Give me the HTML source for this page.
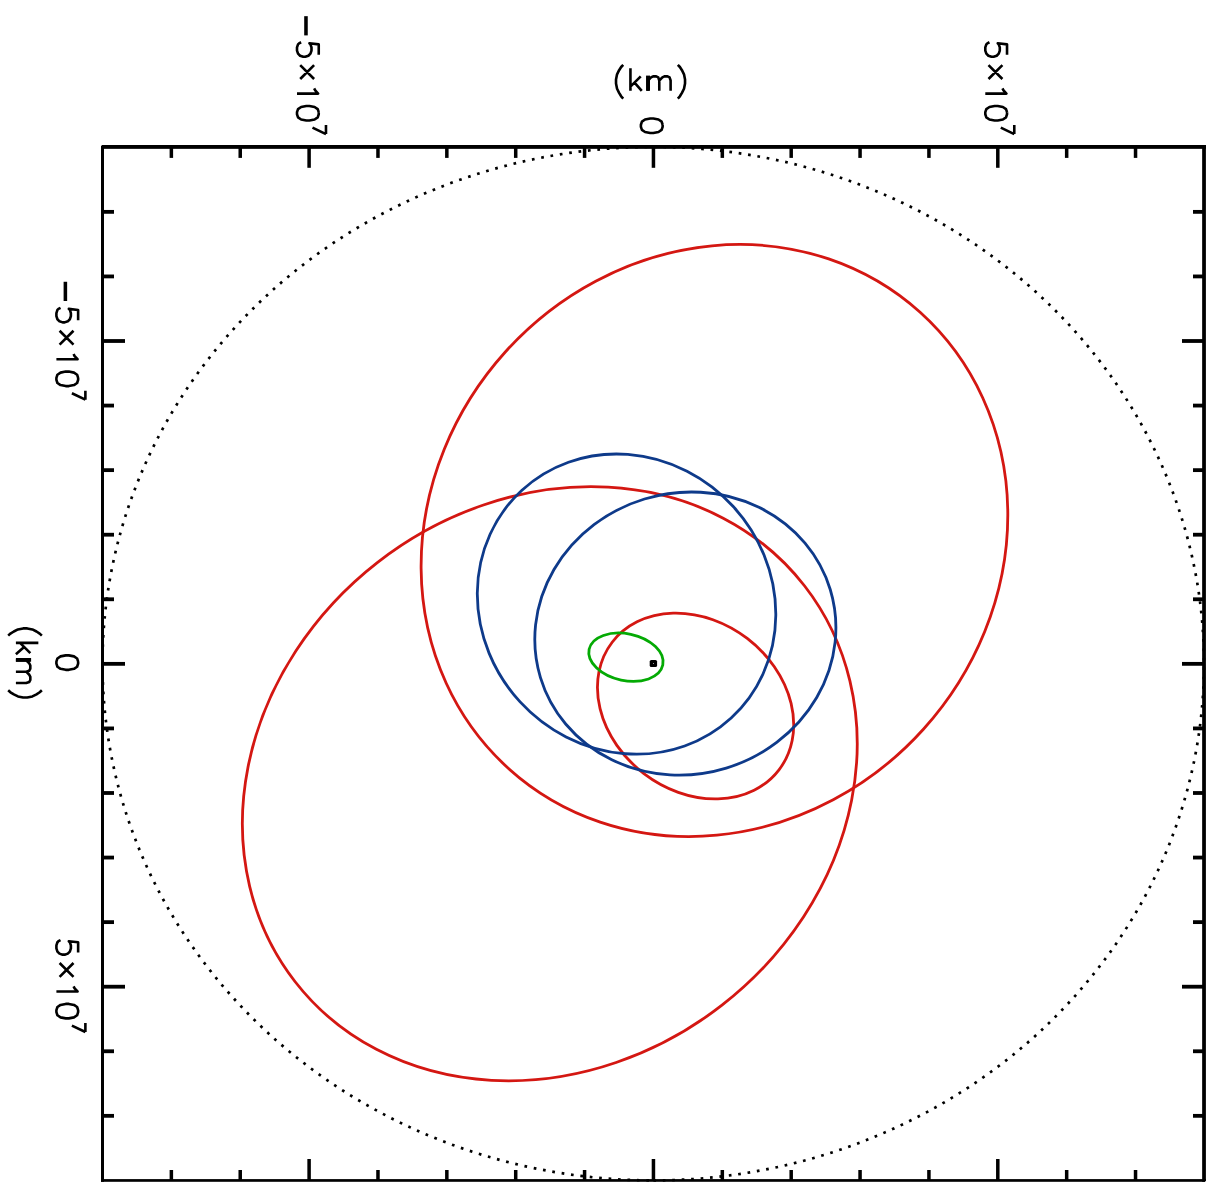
<!DOCTYPE html><html><head><meta charset="utf-8"><title>orbits</title>
<style>html,body{margin:0;padding:0;background:#fff;font-family:"Liberation Sans",sans-serif}svg{display:block}html,body{overflow:hidden;width:1216px;height:1191px}</style></head><body>
<svg width="1216" height="1191" viewBox="0 0 1216 1191">
<rect width="1216" height="1191" fill="#fff"/>
<g transform="translate(653.25 663.65) scale(1.0000 1)"><path d="M0 516.750 A550.750 516.750 0 0 0 550.750 0 A550.750 516.750 0 0 0 0 -516.750 A550.750 516.750 0 0 0 -550.750 0 A550.750 516.750 0 0 0 0 516.750" fill="none" stroke="#000" stroke-width="2.7" stroke-dasharray="2.7 6.755" stroke-dashoffset="9.30"/></g>
<ellipse cx="549.80" cy="783.75" rx="322.58" ry="280.49" transform="rotate(142.134 549.80 783.75)" fill="none" stroke="#d41712" stroke-width="2.8"/>
<ellipse cx="714.45" cy="540.50" rx="307.21" ry="281.59" transform="rotate(132.028 714.45 540.50)" fill="none" stroke="#d41712" stroke-width="2.8"/>
<ellipse cx="695.58" cy="706.03" rx="105.01" ry="85.06" transform="rotate(-142.593 695.58 706.03)" fill="none" stroke="#d41712" stroke-width="2.8"/>
<ellipse cx="626.55" cy="604.10" rx="154.62" ry="144.56" transform="rotate(47.424 626.55 604.10)" fill="none" stroke="#0e3a8a" stroke-width="2.8"/>
<ellipse cx="685.35" cy="633.55" rx="151.44" ry="140.60" transform="rotate(163.099 685.35 633.55)" fill="none" stroke="#0e3a8a" stroke-width="2.8"/>
<ellipse cx="625.95" cy="657.20" rx="37.66" ry="23.40" transform="rotate(-167.932 625.95 657.20)" fill="none" stroke="#04aa04" stroke-width="2.8"/>
<rect x="649.7" y="660.0" width="7.4" height="7.0" rx="1.6" fill="#000"/>
<rect x="653.0" y="663.0" width="1" height="1" fill="#999"/>
<g fill="#000">
<rect x="101.00" y="145.00" width="1104.90" height="3.85"/>
<rect x="101.00" y="1179.10" width="1104.90" height="2.70"/>
<rect x="101.00" y="145.00" width="3.00" height="1036.80"/>
<rect x="1202.15" y="145.00" width="3.75" height="1036.80"/>
<rect x="169.61" y="146.90" width="3.50" height="11.00"/>
<rect x="169.61" y="1170.00" width="3.50" height="10.40"/>
<rect x="102.50" y="209.96" width="11.50" height="3.80"/>
<rect x="1193.00" y="209.96" width="11.00" height="3.80"/>
<rect x="238.48" y="146.90" width="3.50" height="11.00"/>
<rect x="238.48" y="1170.00" width="3.50" height="10.40"/>
<rect x="102.50" y="274.53" width="11.50" height="3.80"/>
<rect x="1193.00" y="274.53" width="11.00" height="3.80"/>
<rect x="307.35" y="146.90" width="3.50" height="20.90"/>
<rect x="307.35" y="1159.00" width="3.50" height="21.40"/>
<rect x="102.50" y="339.10" width="22.50" height="3.80"/>
<rect x="1182.00" y="339.10" width="22.00" height="3.80"/>
<rect x="376.22" y="146.90" width="3.50" height="11.00"/>
<rect x="376.22" y="1170.00" width="3.50" height="10.40"/>
<rect x="102.50" y="403.67" width="11.50" height="3.80"/>
<rect x="1193.00" y="403.67" width="11.00" height="3.80"/>
<rect x="445.09" y="146.90" width="3.50" height="11.00"/>
<rect x="445.09" y="1170.00" width="3.50" height="10.40"/>
<rect x="102.50" y="468.24" width="11.50" height="3.80"/>
<rect x="1193.00" y="468.24" width="11.00" height="3.80"/>
<rect x="513.96" y="146.90" width="3.50" height="11.00"/>
<rect x="513.96" y="1170.00" width="3.50" height="10.40"/>
<rect x="102.50" y="532.81" width="11.50" height="3.80"/>
<rect x="1193.00" y="532.81" width="11.00" height="3.80"/>
<rect x="582.83" y="146.90" width="3.50" height="11.00"/>
<rect x="582.83" y="1170.00" width="3.50" height="10.40"/>
<rect x="102.50" y="597.38" width="11.50" height="3.80"/>
<rect x="1193.00" y="597.38" width="11.00" height="3.80"/>
<rect x="651.70" y="146.90" width="3.50" height="20.90"/>
<rect x="651.70" y="1159.00" width="3.50" height="21.40"/>
<rect x="102.50" y="661.95" width="22.50" height="3.80"/>
<rect x="1182.00" y="661.95" width="22.00" height="3.80"/>
<rect x="720.57" y="146.90" width="3.50" height="11.00"/>
<rect x="720.57" y="1170.00" width="3.50" height="10.40"/>
<rect x="102.50" y="726.52" width="11.50" height="3.80"/>
<rect x="1193.00" y="726.52" width="11.00" height="3.80"/>
<rect x="789.44" y="146.90" width="3.50" height="11.00"/>
<rect x="789.44" y="1170.00" width="3.50" height="10.40"/>
<rect x="102.50" y="791.09" width="11.50" height="3.80"/>
<rect x="1193.00" y="791.09" width="11.00" height="3.80"/>
<rect x="858.31" y="146.90" width="3.50" height="11.00"/>
<rect x="858.31" y="1170.00" width="3.50" height="10.40"/>
<rect x="102.50" y="855.66" width="11.50" height="3.80"/>
<rect x="1193.00" y="855.66" width="11.00" height="3.80"/>
<rect x="927.18" y="146.90" width="3.50" height="11.00"/>
<rect x="927.18" y="1170.00" width="3.50" height="10.40"/>
<rect x="102.50" y="920.23" width="11.50" height="3.80"/>
<rect x="1193.00" y="920.23" width="11.00" height="3.80"/>
<rect x="996.05" y="146.90" width="3.50" height="20.90"/>
<rect x="996.05" y="1159.00" width="3.50" height="21.40"/>
<rect x="102.50" y="984.80" width="22.50" height="3.80"/>
<rect x="1182.00" y="984.80" width="22.00" height="3.80"/>
<rect x="1064.92" y="146.90" width="3.50" height="11.00"/>
<rect x="1064.92" y="1170.00" width="3.50" height="10.40"/>
<rect x="102.50" y="1049.37" width="11.50" height="3.80"/>
<rect x="1193.00" y="1049.37" width="11.00" height="3.80"/>
<rect x="1133.79" y="146.90" width="3.50" height="11.00"/>
<rect x="1133.79" y="1170.00" width="3.50" height="10.40"/>
<rect x="102.50" y="1113.94" width="11.50" height="3.80"/>
<rect x="1193.00" y="1113.94" width="11.00" height="3.80"/>
</g>
<polygon points="100.9,144.9 102.1,144.9 100.9,146.2" fill="#fff"/>
<polygon points="1206,1181.9 1204.9,1181.9 1206,1180.7" fill="#fff"/>
<path d="M78.13 320.29 L78.13 309.94 L68.82 308.91 L69.85 309.94 L70.89 313.05 L70.89 316.15 L69.85 319.26 L67.78 321.33 L64.68 322.37 L62.61 322.37 L59.50 321.33 L57.43 319.26 L56.40 316.15 L56.40 313.05 L57.43 309.94 L58.47 308.91 L60.54 307.88 M59.60 330.72 L73.50 344.62 M73.50 330.72 L59.60 344.62 M73.58 354.01 L74.62 356.08 L77.51 359.19 L56.40 359.19 M78.13 377.81 L77.10 374.71 L74.00 372.64 L68.82 371.60 L65.72 371.60 L60.54 372.64 L57.43 374.71 L56.40 377.81 L56.40 379.88 L57.43 382.99 L60.54 385.06 L65.72 386.09 L68.82 386.09 L74.00 385.06 L77.10 382.99 L78.13 379.88 L78.13 377.81 M85.38 399.68 L71.90 393.26 M85.38 390.70 L85.38 399.68 M78.13 952.59 L78.13 942.24 L68.82 941.21 L69.85 942.24 L70.89 945.35 L70.89 948.45 L69.85 951.56 L67.78 953.63 L64.68 954.66 L62.61 954.66 L59.50 953.63 L57.43 951.56 L56.40 948.45 L56.40 945.35 L57.43 942.24 L58.47 941.21 L60.54 940.17 M59.60 963.02 L73.50 976.92 M73.50 963.02 L59.60 976.92 M73.58 986.31 L74.62 988.38 L77.51 991.48 L56.40 991.48 M78.13 1010.11 L77.10 1007.01 L74.00 1004.94 L68.82 1003.90 L65.72 1003.90 L60.54 1004.94 L57.43 1007.01 L56.40 1010.11 L56.40 1012.18 L57.43 1015.29 L60.54 1017.36 L65.72 1018.39 L68.82 1018.39 L74.00 1017.36 L77.10 1015.29 L78.13 1012.18 L78.13 1010.11 M85.38 1031.98 L71.90 1025.56 M85.38 1023.00 L85.38 1031.98 M78.13 661.57 L77.10 658.46 L74.00 656.39 L68.82 655.36 L65.72 655.36 L60.54 656.39 L57.43 658.46 L56.40 661.57 L56.40 663.63 L57.43 666.74 L60.54 668.81 L65.72 669.85 L68.82 669.85 L74.00 668.81 L77.10 666.74 L78.13 663.63 L78.13 661.57 M318.74 54.69 L318.74 44.34 L309.42 43.31 L310.45 44.34 L311.49 47.45 L311.49 50.55 L310.45 53.66 L308.38 55.73 L305.28 56.76 L303.21 56.76 L300.11 55.73 L298.04 53.66 L297.00 50.55 L297.00 47.45 L298.04 44.34 L299.07 43.31 L301.14 42.27 M300.20 65.12 L314.10 79.02 M314.10 65.12 L300.20 79.02 M314.18 88.41 L315.22 90.48 L318.11 93.58 L297.00 93.58 M318.74 112.21 L317.70 109.11 L314.60 107.04 L309.42 106.00 L306.31 106.00 L301.14 107.04 L298.04 109.11 L297.00 112.21 L297.00 114.28 L298.04 117.39 L301.14 119.46 L306.31 120.49 L309.42 120.49 L314.60 119.46 L317.70 117.39 L318.74 114.28 L318.74 112.21 M325.98 134.08 L312.50 127.66 M325.98 125.10 L325.98 134.08 M1007.03 54.69 L1007.03 44.34 L997.72 43.31 L998.75 44.34 L999.79 47.45 L999.79 50.55 L998.75 53.66 L996.68 55.73 L993.58 56.76 L991.51 56.76 L988.40 55.73 L986.33 53.66 L985.30 50.55 L985.30 47.45 L986.33 44.34 L987.37 43.31 L989.44 42.27 M988.50 65.12 L1002.40 79.02 M1002.40 65.12 L988.50 79.02 M1002.48 88.41 L1003.52 90.48 L1006.41 93.58 L985.30 93.58 M1007.03 112.21 L1006.00 109.11 L1002.89 107.04 L997.72 106.00 L994.62 106.00 L989.44 107.04 L986.33 109.11 L985.30 112.21 L985.30 114.28 L986.33 117.39 L989.44 119.46 L994.62 120.49 L997.72 120.49 L1002.89 119.46 L1006.00 117.39 L1007.03 114.28 L1007.03 112.21 M1014.28 134.08 L1000.80 127.66 M1014.28 125.10 L1014.28 134.08 M662.63 124.72 L661.60 121.61 L658.50 119.54 L653.32 118.51 L650.22 118.51 L645.04 119.54 L641.93 121.61 L640.90 124.72 L640.90 126.79 L641.93 129.89 L645.04 131.96 L650.22 133.00 L653.32 133.00 L658.50 131.96 L661.60 129.89 L662.63 126.79 L662.63 124.72 M623.23 64.84 L621.17 67.01 L619.11 70.20 L617.05 74.32 L616.02 79.47 L616.02 83.59 L617.05 88.74 L619.11 92.86 L621.17 96.26 L623.23 98.52 M630.44 68.35 L630.44 90.80 M640.74 76.38 L630.44 86.68 M634.56 82.56 L641.77 90.80 M647.95 76.38 L647.95 90.80 M647.95 80.50 L651.04 77.41 L653.10 76.38 L656.19 76.38 L658.25 77.41 L659.28 80.50 L659.28 90.80 M659.28 80.50 L662.37 77.41 L664.43 76.38 L667.52 76.38 L669.58 77.41 L670.61 80.50 L670.61 90.80 M677.82 64.84 L679.88 67.01 L681.94 70.20 L684.00 74.32 L685.03 79.47 L685.03 83.59 L684.00 88.74 L681.94 92.86 L679.88 96.26 L677.82 98.52 M41.86 635.63 L39.69 633.57 L36.50 631.51 L32.38 629.45 L27.23 628.42 L23.11 628.42 L17.96 629.45 L13.84 631.51 L10.44 633.57 L8.18 635.63 M38.35 642.84 L15.90 642.84 M30.32 653.14 L20.02 642.84 M24.14 646.96 L15.90 654.17 M30.32 660.35 L15.90 660.35 M26.20 660.35 L29.29 663.44 L30.32 665.50 L30.32 668.59 L29.29 670.65 L26.20 671.68 L15.90 671.68 M26.20 671.68 L29.29 674.77 L30.32 676.83 L30.32 679.92 L29.29 681.98 L26.20 683.01 L15.90 683.01 M41.86 690.22 L39.69 692.28 L36.50 694.34 L32.38 696.40 L27.23 697.43 L23.11 697.43 L17.96 696.40 L13.84 694.34 L10.44 692.28 L8.18 690.22" fill="none" stroke="#000" stroke-width="2.60" stroke-linejoin="round" stroke-linecap="butt"/>
<rect x="63.60" y="281.77" width="3.55" height="19.23" fill="#000"/>
<rect x="304.20" y="16.17" width="3.55" height="19.23" fill="#000"/>
<rect x="646.05" y="75.60" width="3.95" height="15.20" fill="#000"/>
<rect x="15.90" y="658.00" width="15.20" height="3.70" fill="#000"/>
</svg></body></html>
